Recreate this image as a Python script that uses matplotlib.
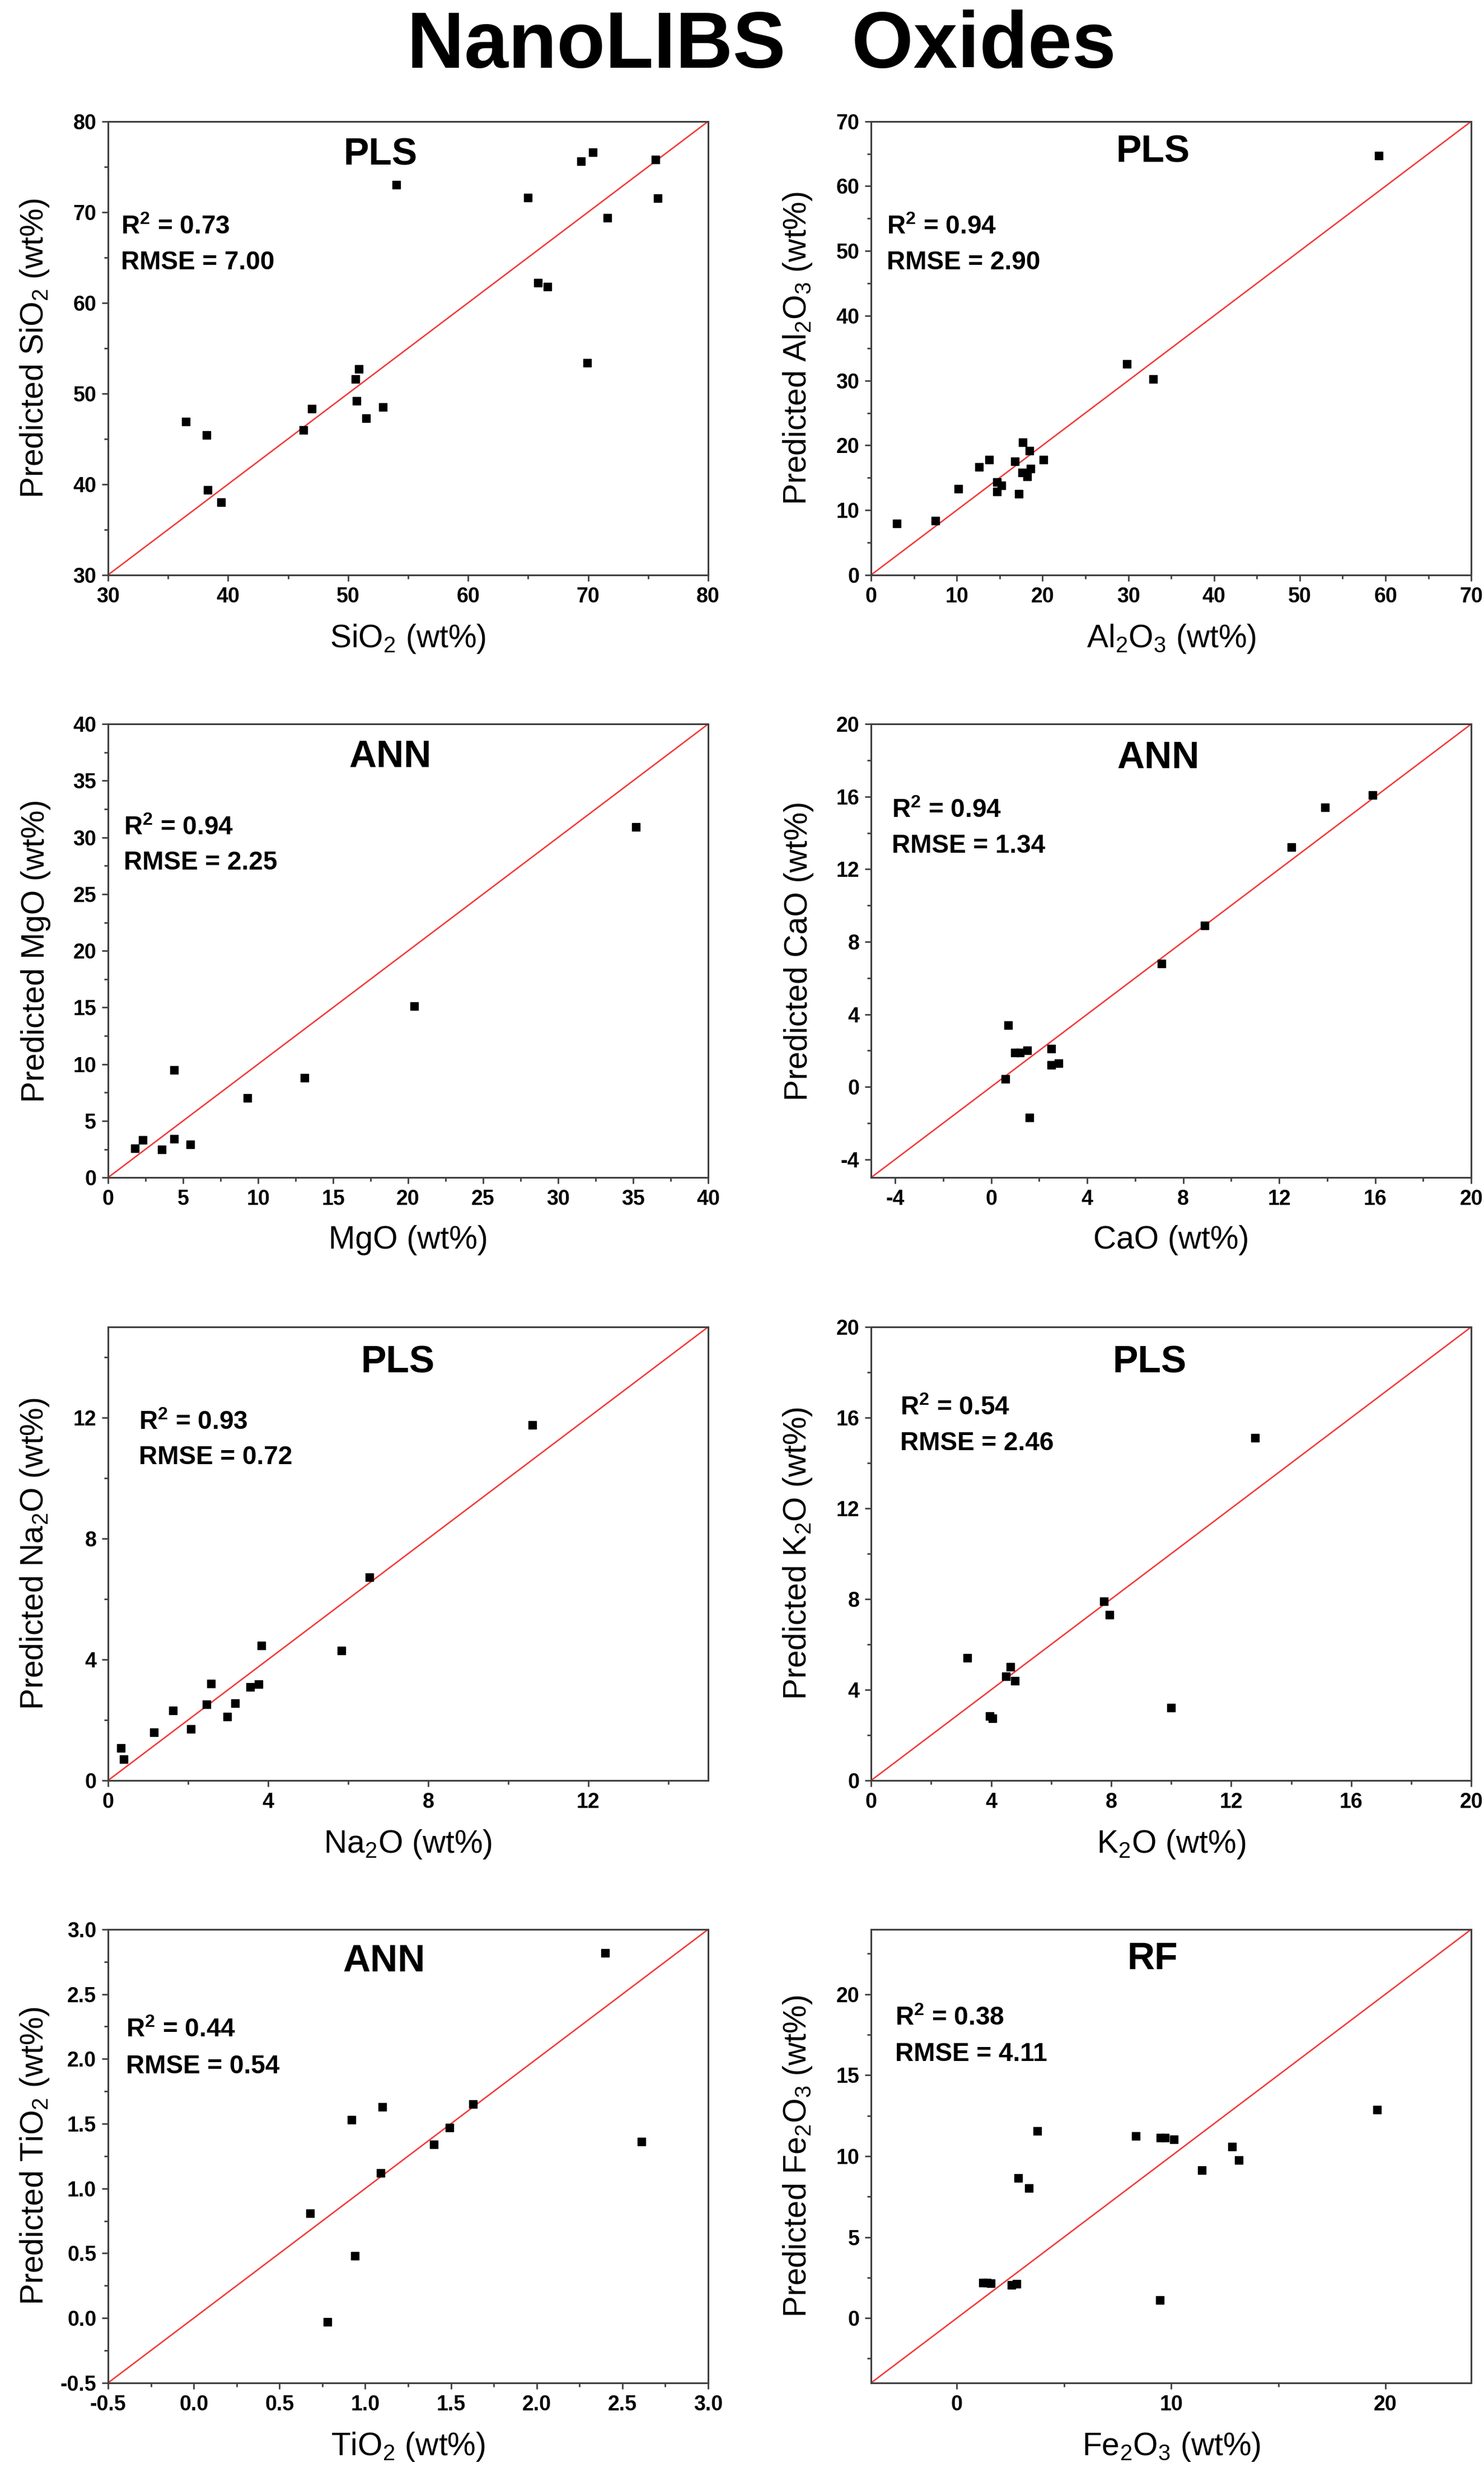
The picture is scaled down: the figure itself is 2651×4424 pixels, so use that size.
import matplotlib
matplotlib.use('Agg')
import matplotlib.pyplot as plt
from matplotlib.ticker import MultipleLocator

plt.rcParams['font.family'] = ['Liberation Sans Narrow', 'Liberation Sans', 'DejaVu Sans']
plt.rcParams['font.weight'] = 'bold'
plt.rcParams['mathtext.default'] = 'regular'
plt.rcParams['axes.unicode_minus'] = False

# values (reference wt%, predicted wt%)
sio2_ref = [36.5, 38.2, 38.3, 39.4, 46.3, 47.0, 50.6, 50.9, 50.7, 51.5, 52.9, 54.0, 65.0, 65.8, 66.6, 69.4, 70.4, 69.9, 71.6, 75.6, 75.8]
sio2_pred = [46.9, 45.4, 39.4, 38.0, 46.0, 48.3, 51.6, 52.7, 49.2, 47.3, 48.5, 73.0, 71.6, 62.2, 61.8, 75.6, 76.6, 53.4, 69.4, 75.8, 71.5]

al2o3_ref = [3.0, 7.5, 10.2, 12.6, 13.8, 14.7, 14.7, 15.2, 16.8, 17.7, 17.6, 17.2, 18.2, 18.6, 18.5, 20.1, 29.8, 32.9, 59.2]
al2o3_pred = [7.9, 8.4, 13.3, 16.7, 17.8, 14.3, 12.9, 13.8, 17.5, 20.5, 15.8, 12.5, 15.2, 16.4, 19.2, 17.8, 32.6, 30.2, 64.7]

mgo_ref = [1.8, 2.3, 3.6, 4.4, 4.4, 5.5, 9.3, 13.1, 20.4, 35.2]
mgo_pred = [2.6, 3.3, 2.5, 9.5, 3.4, 2.9, 7.0, 8.8, 15.1, 30.9]

cao_ref = [0.7, 0.6, 1.0, 1.2, 1.5, 1.6, 2.5, 2.5, 2.8, 7.1, 8.9, 12.5, 13.9, 15.9]
cao_pred = [3.4, 0.45, 1.9, 1.9, 2.0, -1.7, 2.1, 1.2, 1.3, 6.8, 8.9, 13.2, 15.4, 16.1]

na2o_ref = [0.32, 0.39, 1.15, 1.63, 2.07, 2.46, 2.57, 2.98, 3.17, 3.55, 3.77, 3.84, 5.84, 6.53, 10.6]
na2o_pred = [1.08, 0.71, 1.60, 2.31, 1.70, 2.51, 3.21, 2.11, 2.56, 3.09, 3.18, 4.47, 4.30, 6.72, 11.75]

k2o_ref = [3.2, 3.95, 4.05, 4.5, 4.65, 4.8, 7.75, 7.95, 10.0, 12.8]
k2o_pred = [5.4, 2.85, 2.75, 4.6, 5.0, 4.4, 7.9, 7.3, 3.2, 15.1]

tio2_ref = [0.68, 0.78, 0.92, 0.94, 1.09, 1.10, 1.40, 1.49, 1.63, 2.40, 2.61]
tio2_pred = [0.81, -0.03, 1.53, 0.48, 1.12, 1.63, 1.34, 1.47, 1.65, 2.82, 1.36]

fe2o3_ref = [1.23, 1.40, 1.58, 2.56, 2.79, 2.86, 3.37, 3.75, 8.34, 9.48, 9.50, 9.70, 10.12, 11.44, 12.84, 13.15, 19.6]
fe2o3_pred = [2.18, 2.18, 2.15, 2.04, 2.11, 8.66, 8.01, 11.55, 11.23, 1.11, 11.14, 11.14, 11.04, 9.12, 10.58, 9.77, 12.85]

oxides = ['SiO$_2$', 'Al$_2$O$_3$', 'MgO', 'CaO', 'Na$_2$O', 'K$_2$O', 'TiO$_2$', 'Fe$_2$O$_3$']
methods = ['PLS', 'PLS', 'ANN', 'ANN', 'PLS', 'PLS', 'ANN', 'RF']
r2_vals = ['0.73', '0.94', '0.94', '0.94', '0.93', '0.54', '0.44', '0.38']
rmse_vals = ['7.00', '2.90', '2.25', '1.34', '0.72', '2.46', '0.54', '4.11']
refs = [sio2_ref, al2o3_ref, mgo_ref, cao_ref, na2o_ref, k2o_ref, tio2_ref, fe2o3_ref]
preds = [sio2_pred, al2o3_pred, mgo_pred, cao_pred, na2o_pred, k2o_pred, tio2_pred, fe2o3_pred]

# axis range, x major/minor, y major/minor
limits = [(30, 80), (0, 70), (0, 40), (-5, 20), (0, 15), (0, 20), (-0.5, 3.0), (-4, 24)]
xsteps = [(10, 5), (10, 5), (5, 2.5), (4, 2), (4, 2), (4, 2), (0.5, 0.25), (10, 5)]
ysteps = [(10, 5), (10, 5), (5, 2.5), (4, 2), (4, 2), (4, 2), (0.5, 0.25), (5, 2.5)]
# text placement in axes fractions
title_xy = [(0.454, 0.926), (0.47, 0.932), (0.47, 0.927), (0.478, 0.925),
            (0.483, 0.921), (0.464, 0.922), (0.46, 0.93), (0.469, 0.934)]
stats_xy = [(0.021, 0.766, 0.689), (0.026, 0.766, 0.689), (0.026, 0.77, 0.694), (0.034, 0.809, 0.731),
            (0.051, 0.789, 0.712), (0.048, 0.821, 0.743), (0.03, 0.777, 0.697), (0.04, 0.804, 0.724)]

lab_font = ['Liberation Sans', 'DejaVu Sans']
fig = plt.figure(figsize=(26.51, 44.24), dpi=100)
fig.text(0.513, 0.981, 'NanoLIBS   Oxides', ha='center', va='center', fontsize=102,
         family=lab_font, fontweight='bold')

lefts = [0.0728, 0.587]
bottoms = [0.7679, 0.5246, 0.2812, 0.0380]
w, h = 0.4044, 0.1831

for i in range(8):
    ax = fig.add_axes([lefts[i % 2], bottoms[i // 2], w, h])
    lo, hi = limits[i]
    ax.plot([lo, hi], [lo, hi], color='#f23b3b', lw=1.9, zorder=2)
    ax.plot(refs[i], preds[i], 's', color='black', ms=10.5, zorder=3)
    ax.set_xlim(lo, hi)
    ax.set_ylim(lo, hi)
    ax.xaxis.set_major_locator(MultipleLocator(xsteps[i][0]))
    ax.xaxis.set_minor_locator(MultipleLocator(xsteps[i][1]))
    ax.yaxis.set_major_locator(MultipleLocator(ysteps[i][0]))
    ax.yaxis.set_minor_locator(MultipleLocator(ysteps[i][1]))
    for s in ax.spines.values():
        s.set_linewidth(2.2)
        s.set_color('#404040')
    ax.tick_params(which='both', direction='out', top=False, right=False, color='#404040', width=2.0)
    ax.tick_params(which='major', length=8, labelsize=27, pad=7)
    ax.tick_params(which='minor', length=5)
    ox = oxides[i]
    ax.set_xlabel(ox + ' (wt%)', fontsize=41, fontweight='normal', family=lab_font)
    ax.set_ylabel('Predicted ' + ox + ' (wt%)', fontsize=41, fontweight='normal', family=lab_font)
    ax.xaxis.set_label_coords(0.5, -0.105)
    ax.yaxis.set_label_coords(-0.095, 0.5)
    tx, ty = title_xy[i]
    ax.text(tx, ty, methods[i], transform=ax.transAxes, ha='center', va='center',
            fontsize=49, fontweight='bold', family=lab_font)
    sx, sy1, sy2 = stats_xy[i]
    ax.text(sx, sy1, 'R$^2$ = ' + r2_vals[i], transform=ax.transAxes, ha='left', va='center',
            fontsize=33, fontweight='bold', family=lab_font)
    ax.text(sx, sy2, 'RMSE = ' + rmse_vals[i], transform=ax.transAxes, ha='left', va='center',
            fontsize=33, fontweight='bold', family=lab_font)

fig.savefig('out.png', dpi=100)
